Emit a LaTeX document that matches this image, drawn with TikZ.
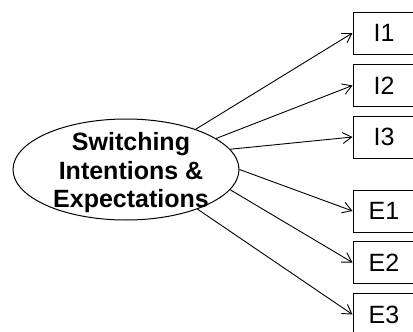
\documentclass[tikz,border=0pt]{standalone}
\usepackage{fontspec}
\setmainfont{Liberation Sans}
\usetikzlibrary{shapes.geometric,arrows.meta}
\begin{document}
\begin{tikzpicture}[x=1pt,y=-1pt,
  construct/.style={ellipse,draw,line width=1pt,inner sep=0pt,
    minimum width=226pt,minimum height=101pt},
  title/.style={align=center,inner sep=0pt,
    font=\fontsize{25}{28.5}\selectfont\bfseries},
  item/.style={rectangle,draw,line width=1pt,inner sep=0pt,
    minimum width=62pt,minimum height=42pt,
    font=\fontsize{25}{28}\selectfont},
  load/.style={line width=0.9pt,-{Straight Barb[length=9pt,width=11pt,line width=0.9pt]}}]
\useasboundingbox (0,0) rectangle (413,332);

% latent construct and its label
\node[construct] (sw) at (126,169.5) {};
\node[title] (swt) at (131,173) {Switching\\Intentions \&\\Expectations};

% indicator boxes (cut by the right page edge)
\node[item] (i1) at (384,33)    {I1};
\node[item] (i2) at (384,85.5)  {I2};
\node[item] (i3) at (384,137)   {I3};
\node[item] (e1) at (384,211)   {E1};
\node[item] (e2) at (384,262.5) {E2};
\node[item] (e3) at (384,314.5) {E3};

\draw[load] (sw.30)  -- (i1.west);
\draw[load] (sw.19)  -- (i2.west);
\draw[load] (sw.11)  -- (i3.west);
\draw[load] (sw.0)   -- (e1.west);
\draw[load] (sw.-11) -- (e2.west);
\draw[load] (sw.-29) -- (e3.west);
\end{tikzpicture}
\end{document}
